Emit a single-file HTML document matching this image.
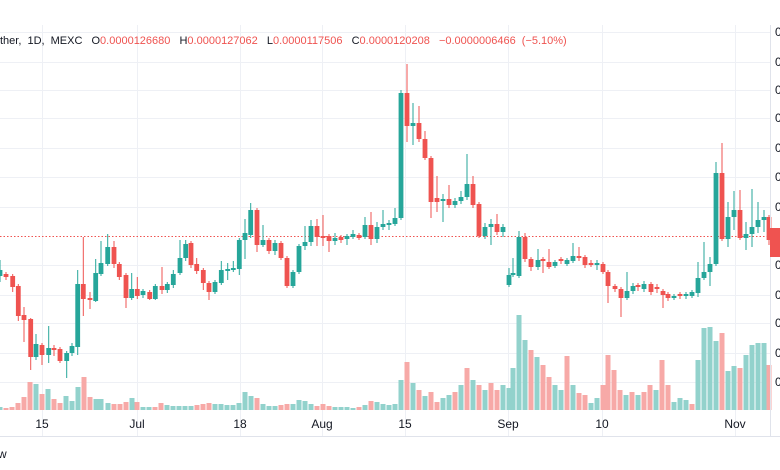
<!DOCTYPE html>
<html><head><meta charset="utf-8"><style>
html,body{margin:0;padding:0;background:#fff;width:780px;height:470px;overflow:hidden}
svg{display:block;font-family:"Liberation Sans",sans-serif}
</style></head><body>
<svg id="s" width="780" height="470" viewBox="0 0 780 470" xmlns="http://www.w3.org/2000/svg">
<rect width="780" height="470" fill="#fff"/>
<g id="grid" stroke="#eef0f5" stroke-width="1"></g>
<line x1="0" y1="236.5" x2="770" y2="236.5" stroke="#ef5350" stroke-width="1" stroke-dasharray="1.5,2"/>
<g id="vol"></g>
<g id="cdl"></g>
<line x1="770.5" y1="25" x2="770.5" y2="436" stroke="#e0e3eb"/>
<line x1="0" y1="436.5" x2="780" y2="436.5" stroke="#e0e3eb"/>
<g id="ax" font-size="12" fill="#131722"></g>
<rect x="770" y="228" width="10" height="29" fill="#ef5350"/>
<text x="0" y="44" font-size="11" fill="#131722" word-spacing="3">ther, 1D, MEXC <tspan dx="3">O</tspan><tspan fill="#ef5350">0.0000126680</tspan> <tspan dx="3">H</tspan><tspan fill="#ef5350">0.0000127062</tspan> <tspan dx="3">L</tspan><tspan fill="#ef5350">0.0000117506</tspan> <tspan dx="3">C</tspan><tspan fill="#ef5350">0.0000120208</tspan> <tspan dx="3" fill="#ef5350">−0.0000006466 (−5.10%)</tspan></text>
<text x="-2" y="458" font-size="12" fill="#131722">w</text>
</svg>
<script>
var NS="http://www.w3.org/2000/svg";
function el(p,t,a){var e=document.createElementNS(NS,t);for(var k in a)e.setAttribute(k,a[k]);p.appendChild(e);return e;}
var G="#26a69a",R="#ef5350";
var grid=document.getElementById('grid');
[32,62,90,118,148,177,207,265,295,323,353,382].forEach(function(y){el(grid,'line',{x1:0,x2:770,y1:y+.5,y2:y+.5});});
var vx=[42,137,240,322,405,508,602,735];
vx.forEach(function(x){el(grid,'line',{x1:x+.5,x2:x+.5,y1:25,y2:436});});
var ax=document.getElementById('ax');
[["15",42],["Jul",137],["18",240],["Aug",322],["15",405],["Sep",508],["10",602],["Nov",735]].forEach(function(a){var t=el(ax,'text',{x:a[1],y:428,'text-anchor':'middle'});t.textContent=a[0];});
[32,62,90,118,148,177,207,265,295,323,353,382].forEach(function(y){var t=el(ax,'text',{x:775,y:y+4,fill:'#131722'});t.textContent="0";});
var C=[
[0,270,276,260,282,'g'],[6,274,277,272,280,'r'],[12.7,276,287,274,292,'r'],[18.3,286,316,284,321,'r'],[24,315,320,307,342,'r'],
[30.7,319,357,318,370,'r'],[36,344,357,334,360,'g'],[42,345,355,343,365,'r'],[48.7,348,355,326,363,'g'],[54,348,350,345,356,'r'],
[60,349,361,347,363,'r'],[66.7,353,361,351,378,'g'],[72,346,353,343,356,'g'],[77.7,284,347,270,355,'g'],[83.3,284,299,237,316,'r'],
[90,298,300,292,309,'r'],[95.7,273,301,259,302,'g'],[101,263,274,241,276,'g'],[107.7,247,264,234,266,'g'],[114,247,264,241,268,'r'],
[119.3,264,277,262,280,'r'],[126,275,298,273,308,'r'],[131.7,289,298,273,300,'g'],[137.3,289,296,277,299,'r'],[143,291,295,289,298,'g'],
[149.7,292,299,290,300,'r'],[155.3,286,299,284,300,'g'],[162,286,290,267,294,'r'],[167.3,284,290,282,293,'g'],[173.3,274,285,270,288,'g'],
[180,258,273,240,275,'g'],[185.7,244,258,240,261,'g'],[191,243,265,241,268,'r'],[196.7,264,271,258,274,'r'],[203.3,270,283,268,290,'r'],
[209,283,292,281,300,'r'],[215,282,292,280,294,'g'],[221.3,270,283,261,285,'g'],[227.7,269,271,263,280,'g'],[233.3,268,270,261,272,'g'],
[239.3,240,269,238,275,'g'],[245,233,240,219,259,'g'],[250.7,210,235,203,238,'g'],[257,210,245,208,252,'r'],[263,240,245,225,247,'g'],
[269,240,251,238,254,'r'],[275,243,251,240,255,'g'],[281,243,258,241,260,'r'],[287,258,286,256,288,'r'],[293,272,286,270,288,'g'],
[299,246,272,244,274,'g'],[305,242,246,226,250,'g'],[311,226,242,220,246,'g'],[317,226,237,219,246,'r'],[323,236,238,215,246,'r'],
[329,236,241,234,252,'r'],[335,238,241,233,245,'g'],[341,237,240,235,243,'r'],[347,236,239,234,245,'g'],[353,234,237,230,239,'g'],
[359,235,238,233,240,'r'],[365,225,237,217,239,'g'],[371,225,239,212,245,'r'],[377,227,239,222,243,'g'],[383,224,227,210,230,'g'],
[389,223,225,220,230,'g'],[395,218,224,208,226,'g'],[401,93,218,90,220,'g'],[407,93,126,64,142,'r'],[413,123,126,103,145,'g'],
[419,123,139,106,142,'r'],[425,139,158,131,160,'r'],[431,158,202,156,218,'r'],[437,198,202,176,212,'r'],[443,199,201,194,222,'g'],
[449,199,205,185,208,'r'],[455,201,205,198,208,'g'],[461,197,201,191,204,'g'],[467,184,197,154,200,'g'],[473,184,205,176,208,'r'],
[479,204,236,202,238,'r'],[485,227,236,223,239,'g'],[491,224,227,219,245,'g'],[497,224,232,214,235,'r'],[503,227,232,224,237,'g'],
[509,275,285,268,287,'g'],[513,273,275,258,277,'g'],[519,237,276,231,278,'g'],[525,237,259,233,262,'r'],[531,259,267,257,271,'r'],
[538,260,267,249,270,'g'],[543,259,261,257,273,'r'],[549,262,267,249,269,'r'],[555,262,266,260,268,'g'],[561,259,261,257,264,'r'],
[567,260,264,258,266,'g'],[573,256,261,243,263,'g'],[579,256,258,247,261,'r'],[585,257,265,255,268,'r'],[591,263,265,260,267,'r'],
[597,263,265,260,270,'g'],[603,264,272,262,274,'r'],[608,272,286,270,303,'r'],[615,286,289,284,292,'r'],[621,289,298,287,317,'r'],
[627,291,298,272,300,'g'],[633,286,291,283,294,'g'],[638,285,287,283,291,'r'],[644,284,289,281,292,'g'],[651,284,292,282,295,'r'],
[657,287,289,284,293,'r'],[663,291,295,289,308,'r'],[668,294,298,292,301,'r'],[674,296,298,294,300,'g'],[680,294,296,292,299,'r'],
[686,294,296,292,299,'g'],[692,292,296,290,298,'g'],[698,278,293,262,297,'g'],[704,272,278,242,280,'g'],[710,264,272,257,286,'g'],
[716,173,264,162,266,'g'],[722,173,239,143,241,'r'],[728,217,239,202,247,'g'],[734,210,217,191,230,'g'],[740,210,238,190,240,'r'],
[746,234,238,222,250,'g'],[752,227,234,189,247,'g'],[758,220,227,202,233,'g'],[764,217,220,210,232,'g'],[769,217,240,215,245,'r']
];
var cg=document.getElementById('cdl');
C.forEach(function(c){var col=c[5]=='g'?G:R;var x=c[0];
el(cg,'line',{x1:x,x2:x,y1:c[3],y2:c[4],stroke:col,'stroke-width':1});
var h=Math.max(1.5,c[2]-c[1]);el(cg,'rect',{x:x-2.4,y:c[1],width:4.8,height:h,fill:col});});
var V=[[0,407,'g'],[6,408,'r'],[12,407,'r'],[18,403,'r'],[24,397,'r'],[30,382,'r'],[36,384,'g'],[42,394,'r'],[48,389,'g'],[54,399,'r'],
[60,403,'r'],[66,396,'g'],[72,401,'g'],[78,387,'g'],[84,377,'r'],[90,397,'r'],[96,399,'g'],[101,399,'g'],[108,403,'g'],[114,404,'r'],
[120,404,'r'],[126,402,'r'],[132,398,'g'],[137,402,'r'],[143,407,'g'],[149,407,'g'],[155,407,'r'],[161,403,'r'],[167,405,'g'],[173,406,'g'],
[179,406,'g'],[185,406,'g'],[191,406,'g'],[197,405,'r'],[203,404,'r'],[209,403,'r'],[215,404,'g'],[221,404,'g'],[227,405,'g'],[233,405,'g'],
[239,403,'g'],[245,392,'g'],[251,396,'g'],[257,398,'r'],[263,404,'g'],[269,406,'g'],[275,406,'g'],[281,405,'r'],[287,404,'r'],[293,404,'g'],
[299,400,'g'],[305,401,'g'],[311,404,'g'],[317,406,'r'],[323,404,'r'],[329,406,'r'],[335,407,'g'],[341,407,'g'],[347,407,'g'],[353,408,'g'],
[359,407,'r'],[365,405,'g'],[371,401,'r'],[377,402,'g'],[383,404,'g'],[389,405,'g'],[395,404,'g'],[401,380,'g'],[407,362,'r'],[413,383,'g'],
[419,390,'r'],[425,396,'g'],[431,392,'r'],[437,402,'r'],[443,398,'g'],[449,395,'g'],[455,392,'r'],[461,385,'g'],[467,368,'r'],[473,380,'g'],
[479,385,'r'],[485,390,'g'],[491,383,'r'],[497,390,'r'],[503,385,'g'],[509,388,'g'],[513,368,'g'],[519,315,'g'],[525,340,'g'],[531,350,'r'],
[537,357,'g'],[543,365,'r'],[549,377,'r'],[555,385,'g'],[561,390,'g'],[567,356,'r'],[573,385,'g'],[579,393,'r'],[585,395,'r'],[591,403,'g'],
[597,398,'g'],[603,385,'r'],[608,355,'r'],[614,370,'r'],[620,390,'r'],[626,395,'g'],[632,392,'r'],[638,395,'g'],[644,392,'r'],[650,385,'r'],
[656,390,'g'],[662,360,'r'],[668,385,'r'],[674,402,'g'],[680,398,'g'],[686,400,'g'],[692,404,'r'],[698,360,'g'],[704,328,'g'],[710,327,'g'],
[716,341,'g'],[722,333,'r'],[728,371,'g'],[734,366,'g'],[740,368,'r'],[746,355,'g'],[752,345,'g'],[758,343,'g'],[764,343,'g'],[769,365,'r']];
var vg=document.getElementById('vol');
V.forEach(function(v){el(vg,'rect',{x:v[0]-2.5,y:v[1],width:5,height:410-v[1],fill:v[2]=='g'?'#92d2cc':'#f7a9a7'});});
</script>
</body></html>
